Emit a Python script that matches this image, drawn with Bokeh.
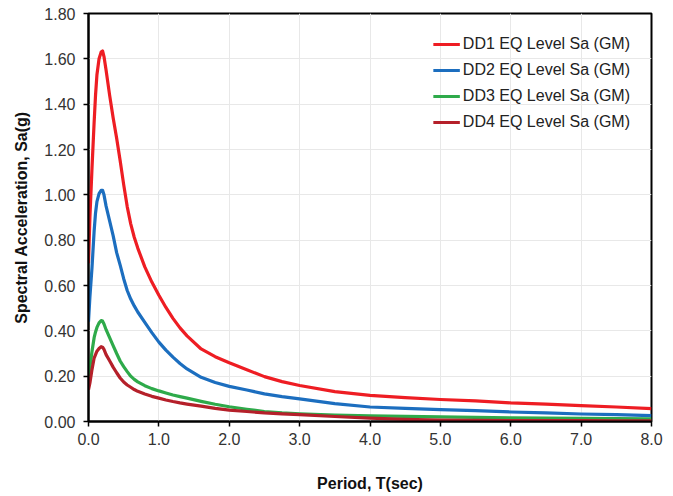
from bokeh.plotting import figure
from bokeh.models import FixedTicker, Range1d, Legend, LegendItem
from bokeh.embed import file_html
from bokeh.resources import INLINE

# ---- data ----
period = [0.0, 0.02, 0.05, 0.08, 0.10, 0.12, 0.15, 0.18, 0.20, 0.22, 0.25, 0.30, 0.35, 0.40,
          0.45, 0.50, 0.55, 0.60, 0.65, 0.70, 0.80, 0.90, 1.00, 1.10, 1.20, 1.30, 1.40, 1.60, 1.80, 2.00,
          2.25, 2.50, 2.75, 3.00, 3.50, 4.00, 4.50, 5.00, 5.50, 6.00, 6.50, 7.00, 7.50, 8.00]
dd1 = [0.698, 0.90, 1.12, 1.32, 1.44, 1.53, 1.60, 1.63, 1.635, 1.61, 1.55, 1.44, 1.34, 1.25,
       1.15, 1.045, 0.948, 0.872, 0.813, 0.765, 0.682, 0.615, 0.557, 0.503, 0.455, 0.413, 0.378, 0.32, 0.286, 0.259,
       0.228, 0.198, 0.176, 0.159, 0.132, 0.115, 0.105, 0.097, 0.091, 0.082, 0.077, 0.070, 0.064, 0.057]
dd2 = [0.44, 0.55, 0.68, 0.84, 0.92, 0.97, 1.005, 1.02, 1.02, 1.00, 0.95, 0.885, 0.82, 0.745,
       0.69, 0.63, 0.578, 0.54, 0.51, 0.483, 0.437, 0.392, 0.35, 0.315, 0.284, 0.256, 0.232, 0.195, 0.172, 0.155,
       0.139, 0.122, 0.110, 0.100, 0.079, 0.064, 0.058, 0.052, 0.048, 0.042, 0.038, 0.033, 0.030, 0.026]
dd3 = [0.198, 0.24, 0.31, 0.37, 0.395, 0.415, 0.435, 0.445, 0.443, 0.43, 0.405, 0.37, 0.335, 0.30,
       0.267, 0.242, 0.22, 0.20, 0.186, 0.175, 0.158, 0.145, 0.135, 0.126, 0.117, 0.11, 0.103, 0.089, 0.076, 0.065,
       0.054, 0.044, 0.038, 0.034, 0.028, 0.025, 0.023, 0.020, 0.018, 0.016, 0.015, 0.014, 0.013, 0.012]
dd4 = [0.140, 0.17, 0.23, 0.28, 0.295, 0.31, 0.322, 0.33, 0.328, 0.318, 0.295, 0.268, 0.24, 0.215,
       0.192, 0.174, 0.161, 0.151, 0.141, 0.133, 0.121, 0.111, 0.103, 0.095, 0.088, 0.082, 0.077, 0.068, 0.058, 0.050,
       0.044, 0.038, 0.034, 0.030, 0.022, 0.015, 0.009, 0.006, 0.005, 0.004, 0.004, 0.004, 0.003, 0.003]

series_names = ["DD1 EQ Level Sa (GM)", "DD2 EQ Level Sa (GM)",
                "DD3 EQ Level Sa (GM)", "DD4 EQ Level Sa (GM)"]
series_colors = ["#EE1D23", "#1C6EBF", "#2EAA4A", "#B5202A"]

x_ticks = [0, 1, 2, 3, 4, 5, 6, 7, 8]
x_tick_labels = ["0.0", "1.0", "2.0", "3.0", "4.0", "5.0", "6.0", "7.0", "8.0"]
y_ticks = [0.0, 0.2, 0.4, 0.6, 0.8, 1.0, 1.2, 1.4, 1.6, 1.8]
y_tick_labels = ["0.00", "0.20", "0.40", "0.60", "0.80", "1.00", "1.20", "1.40", "1.60", "1.80"]

FONT = "Liberation Sans"

p = figure(width=668, height=494, output_backend="svg", toolbar_location=None,
           x_range=Range1d(0, 8), y_range=Range1d(0, 1.8),
           min_border_left=88, min_border_right=17, min_border_top=13, min_border_bottom=72)

renderers = []
for ys, c in zip([dd1, dd2, dd3, dd4], series_colors):
    r = p.line(period, ys, line_color=c, line_width=3.2, line_join="round")
    renderers.append(r)

legend = Legend(items=[LegendItem(label=n, renderers=[r]) for n, r in zip(series_names, renderers)],
                location="top_right")
legend.label_text_font = FONT
legend.label_text_font_size = "16px"
legend.label_text_color = "#222222"
legend.border_line_color = None
legend.background_fill_alpha = 0
legend.glyph_width = 27
legend.glyph_height = 20
legend.label_standoff = 3
legend.spacing = 6
legend.padding = 9
legend.margin = 21
p.add_layout(legend)

p.xaxis.ticker = FixedTicker(ticks=x_ticks)
p.xaxis.major_label_overrides = {t: l for t, l in zip(x_ticks, x_tick_labels)}
p.yaxis.ticker = FixedTicker(ticks=y_ticks)
p.yaxis.major_label_overrides = {t: l for t, l in zip(y_ticks, y_tick_labels)}

p.xaxis.axis_label = "Period, T(sec)"
p.yaxis.axis_label = "Spectral Acceleration, Sa(g)"

for ax in (p.xaxis, p.yaxis):
    ax.axis_label_text_font = FONT
    ax.axis_label_text_font_size = "16px"
    ax.axis_label_text_font_style = "bold"
    ax.axis_label_text_color = "#111111"
    ax.major_label_text_font = FONT
    ax.major_label_text_font_size = "16px"
    ax.major_label_text_color = "#333333"
    ax.axis_line_color = "black"
    ax.axis_line_width = 2
    ax.major_tick_line_color = "black"
    ax.major_tick_line_width = 1.5
    ax.major_tick_out = 5
    ax.major_tick_in = 0
    ax.minor_tick_line_color = None

p.xaxis.major_label_standoff = 6
p.xaxis.axis_label_standoff = 27
p.yaxis.major_label_standoff = 8
p.yaxis.axis_label_standoff = 11

p.xgrid.ticker = FixedTicker(ticks=x_ticks)
p.ygrid.ticker = FixedTicker(ticks=y_ticks)
p.grid.grid_line_color = "#e8e8e8"
p.grid.grid_line_width = 1

p.outline_line_color = "black"
p.outline_line_width = 2
p.background_fill_color = "white"
p.border_fill_color = "white"

open("out.html", "w").write(file_html(p, INLINE))
